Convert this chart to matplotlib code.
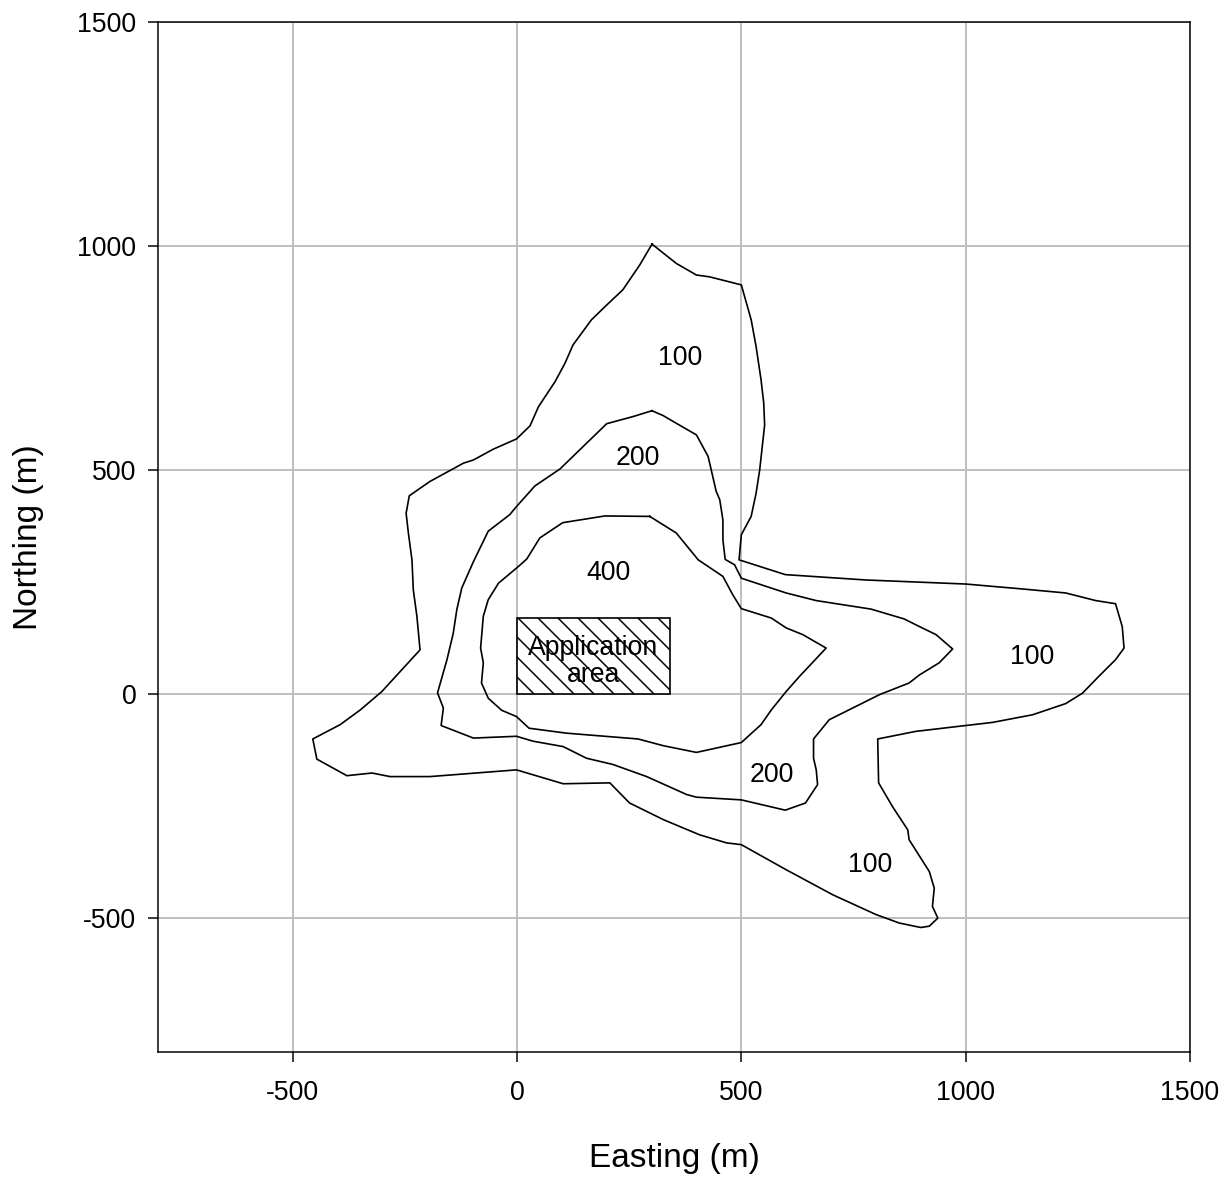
import numpy as np
import matplotlib
matplotlib.use("Agg")
import matplotlib.pyplot as plt
from matplotlib.patches import Rectangle

plt.rcParams['font.family'] = ['Liberation Sans', 'DejaVu Sans']
plt.rcParams['hatch.linewidth'] = 0.9
plt.rcParams['axes.unicode_minus'] = False

# contour outlines (easting, northing)
c100 = [(301, 1004), (355, 961), (400, 935), (429, 931), (500, 913), (522, 835),
        (533, 775), (544, 701), (550, 649), (552, 600), (541, 500), (533, 448),
        (522, 396), (500, 355), (495, 299), (598, 266), (778, 254), (1000, 245),
        (1126, 234), (1223, 225), (1290, 208), (1334, 201), (1349, 150), (1353, 102),
        (1334, 76), (1297, 39), (1260, 1), (1223, -22), (1149, -47), (1060, -64),
        (1000, -71), (889, -84), (804, -101), (806, -199), (837, -252), (871, -304),
        (874, -326), (919, -397), (930, -434), (926, -475), (938, -501), (919, -519),
        (900, -522), (852, -512), (800, -493), (704, -449), (600, -393), (500, -337),
        (467, -333), (407, -315), (326, -281), (251, -244), (207, -199), (103, -201),
        (-1, -170), (-194, -185), (-283, -185), (-323, -177), (-379, -183), (-446, -146),
        (-455, -101), (-394, -69), (-349, -36), (-301, 5), (-216, 98), (-223, 173),
        (-231, 232), (-234, 299), (-242, 359), (-247, 403), (-240, 442), (-194, 474),
        (-119, 515), (-97, 522), (-53, 546), (-1, 569), (29, 598), (48, 641),
        (85, 697), (107, 738), (125, 779), (166, 835), (200, 868), (236, 902),
        (274, 958), (301, 1004)]

c200 = [(301, 632), (259, 619), (200, 603), (96, 502), (40, 464), (-1, 418),
        (-16, 400), (-64, 363), (-97, 295), (-123, 236), (-134, 188), (-142, 135),
        (-156, 76), (-177, 2), (-164, -32), (-169, -71), (-97, -99), (-1, -95),
        (36, -106), (103, -118), (155, -144), (214, -158), (289, -185), (378, -225),
        (400, -231), (500, -237), (598, -260), (643, -244), (670, -203), (667, -170),
        (661, -144), (661, -101), (696, -58), (808, -2), (874, 24), (897, 42),
        (941, 69), (971, 100), (934, 132), (897, 150), (863, 167), (789, 189),
        (667, 208), (600, 225), (500, 258), (485, 288), (464, 300), (459, 344),
        (459, 388), (452, 433), (444, 452), (426, 530), (400, 578), (374, 593),
        (355, 604), (326, 621), (301, 632)]

c400 = [(296, 396), (196, 397), (102, 382), (51, 348), (22, 301), (3, 284),
        (-41, 247), (-64, 210), (-75, 173), (-81, 102), (-75, 69), (-79, 24),
        (-64, -10), (-34, -37), (-1, -51), (27, -77), (110, -88), (270, -101),
        (326, -116), (400, -131), (500, -109), (544, -69), (567, -36), (600, 5),
        (630, 39), (689, 102), (637, 132), (600, 147), (567, 169), (500, 190),
        (481, 221), (459, 262), (404, 299), (355, 359), (296, 396)]

# contour labels
label_text = ["100", "200", "400", "100", "200", "100"]
label_x = [363, 269, 205, 1148, 567, 788]
label_y = [750, 527, 270, 83, -181, -382]

# application area
app_x0, app_y0, app_w, app_h = 0, 0, 340, 170

ticks = [-500, 0, 500, 1000, 1500]

fig = plt.figure(figsize=(1228 / 120, 1177 / 120), dpi=120)
ax = fig.add_axes([158 / 1228, 1 - 1052 / 1177, (1190 - 158) / 1228, (1052 - 22) / 1177])

for c in [c100, c200, c400]:
    pts = np.array(c)
    ax.plot(pts[:, 0], pts[:, 1], color="black", lw=1.0, zorder=3)

for t, x, y in zip(label_text, label_x, label_y):
    ax.text(x, y, t, fontsize=16, ha="center", va="center", zorder=4)

ax.add_patch(Rectangle((app_x0, app_y0), app_w, app_h, facecolor="white",
                       edgecolor="black", hatch="\\\\", lw=1.0, zorder=3))
ax.text(app_x0 + app_w / 2, app_y0 + app_h / 2 - 14, "Application\narea", fontsize=16,
        ha="center", va="center", linespacing=1.05, zorder=4)

ax.set_xlim(-800, 1500)
ax.set_ylim(-800, 1500)
ax.set_xticks(ticks)
ax.set_yticks(ticks)
ax.grid(True, color="#c0c0c0", lw=1.2, zorder=0)
ax.set_axisbelow(True)
ax.tick_params(labelsize=16, length=6, width=0.9, pad=7)
ax.tick_params(axis="x", pad=11)
for s in ax.spines.values():
    s.set_linewidth(0.9)
ax.set_xlabel("Easting (m)", fontsize=20, labelpad=22)
ax.set_ylabel("Northing (m)", fontsize=20, labelpad=20)

fig.savefig("out.png", dpi=120)
